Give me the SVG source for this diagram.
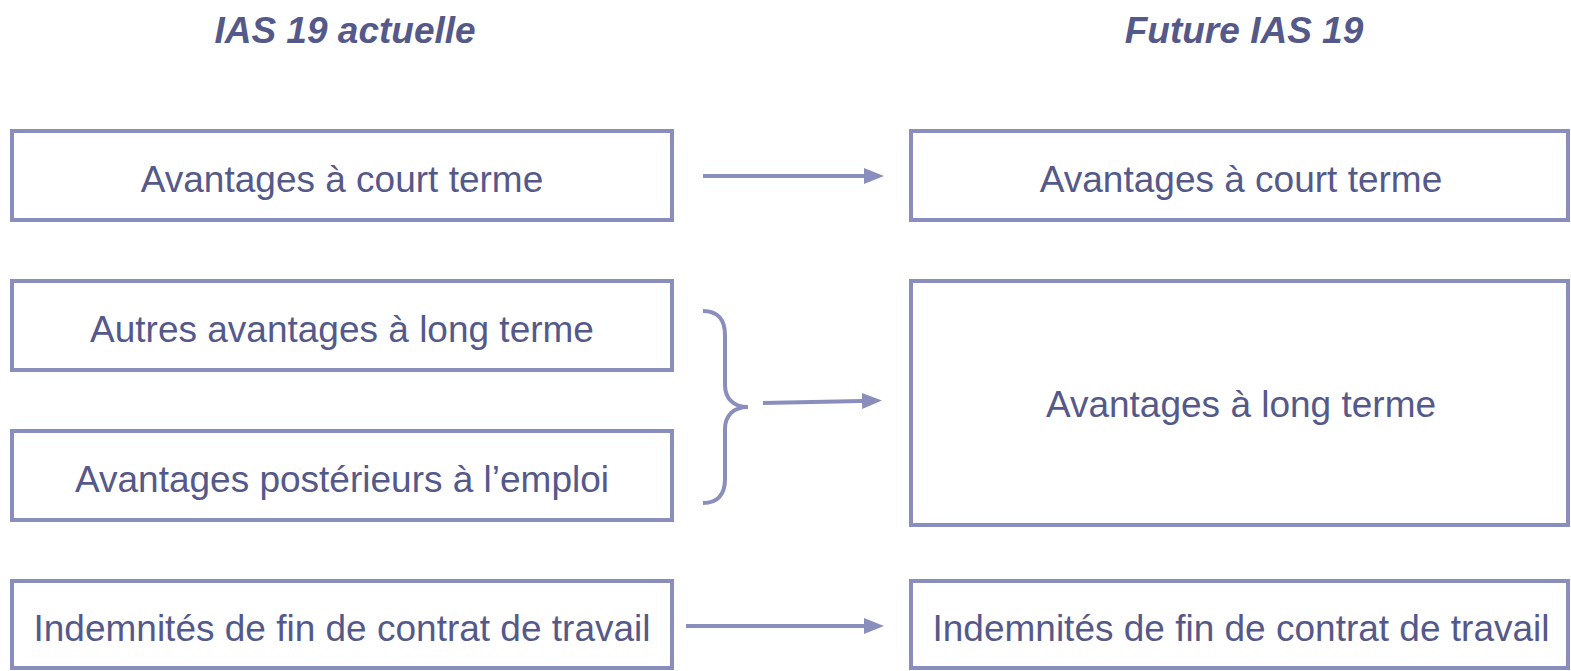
<svg xmlns="http://www.w3.org/2000/svg" width="1571" height="671" viewBox="0 0 1571 671">
<defs>
<style>
.box{fill:#fff;stroke:#8a8ebd;stroke-width:4}
.t{font-family:"Liberation Sans",Arial,sans-serif;font-size:37px;fill:#55598a;text-anchor:middle}
.h{font-family:"Liberation Sans",Arial,sans-serif;font-size:37px;font-weight:bold;font-style:italic;fill:#55598a;text-anchor:middle}
.c{stroke:#8a8ebd;stroke-width:4;fill:none}
</style>
<marker id="ah" markerWidth="5" markerHeight="4" refX="0" refY="2" orient="auto" markerUnits="strokeWidth">
<path d="M0,0 L5,2 L0,4 Z" fill="#8a8ebd"/>
</marker>
</defs>
<rect width="1571" height="671" fill="#fff"/>
<text class="h" x="345" y="43">IAS 19 actuelle</text>
<text class="h" x="1244" y="43">Future IAS 19</text>
<g id="n1"><rect class="box" x="12" y="131" width="660" height="89"/><text class="t" x="342" y="192">Avantages à court terme</text></g>
<g id="n2"><rect class="box" x="12" y="281" width="660" height="89"/><text class="t" x="342" y="342">Autres avantages à long terme</text></g>
<g id="n3"><rect class="box" x="12" y="431" width="660" height="89"/><text class="t" x="342" y="492">Avantages postérieurs à l’emploi</text></g>
<g id="n4"><rect class="box" x="12" y="581" width="660" height="87"/><text class="t" x="342" y="641">Indemnités de fin de contrat de travail</text></g>
<g id="m1"><rect class="box" x="911" y="131" width="657" height="89"/><text class="t" x="1241" y="192">Avantages à court terme</text></g>
<g id="m2"><rect class="box" x="911" y="281" width="657" height="244"/><text class="t" x="1241" y="417">Avantages à long terme</text></g>
<g id="m3"><rect class="box" x="911" y="581" width="657" height="87"/><text class="t" x="1241" y="641">Indemnités de fin de contrat de travail</text></g>
<g id="connectors">
<path class="c" d="M703,311 C718,311 725,320 725,335 L725,385 C725,398 733,407 748,407 C733,407 725,416 725,429 L725,479 C725,494 718,503 703,503"/>
<line class="c" x1="703" y1="176" x2="864" y2="176" marker-end="url(#ah)"/>
<line class="c" x1="763" y1="403" x2="862" y2="401" marker-end="url(#ah)"/>
<line class="c" x1="686" y1="626" x2="864" y2="626" marker-end="url(#ah)"/>
</g>
</svg>
